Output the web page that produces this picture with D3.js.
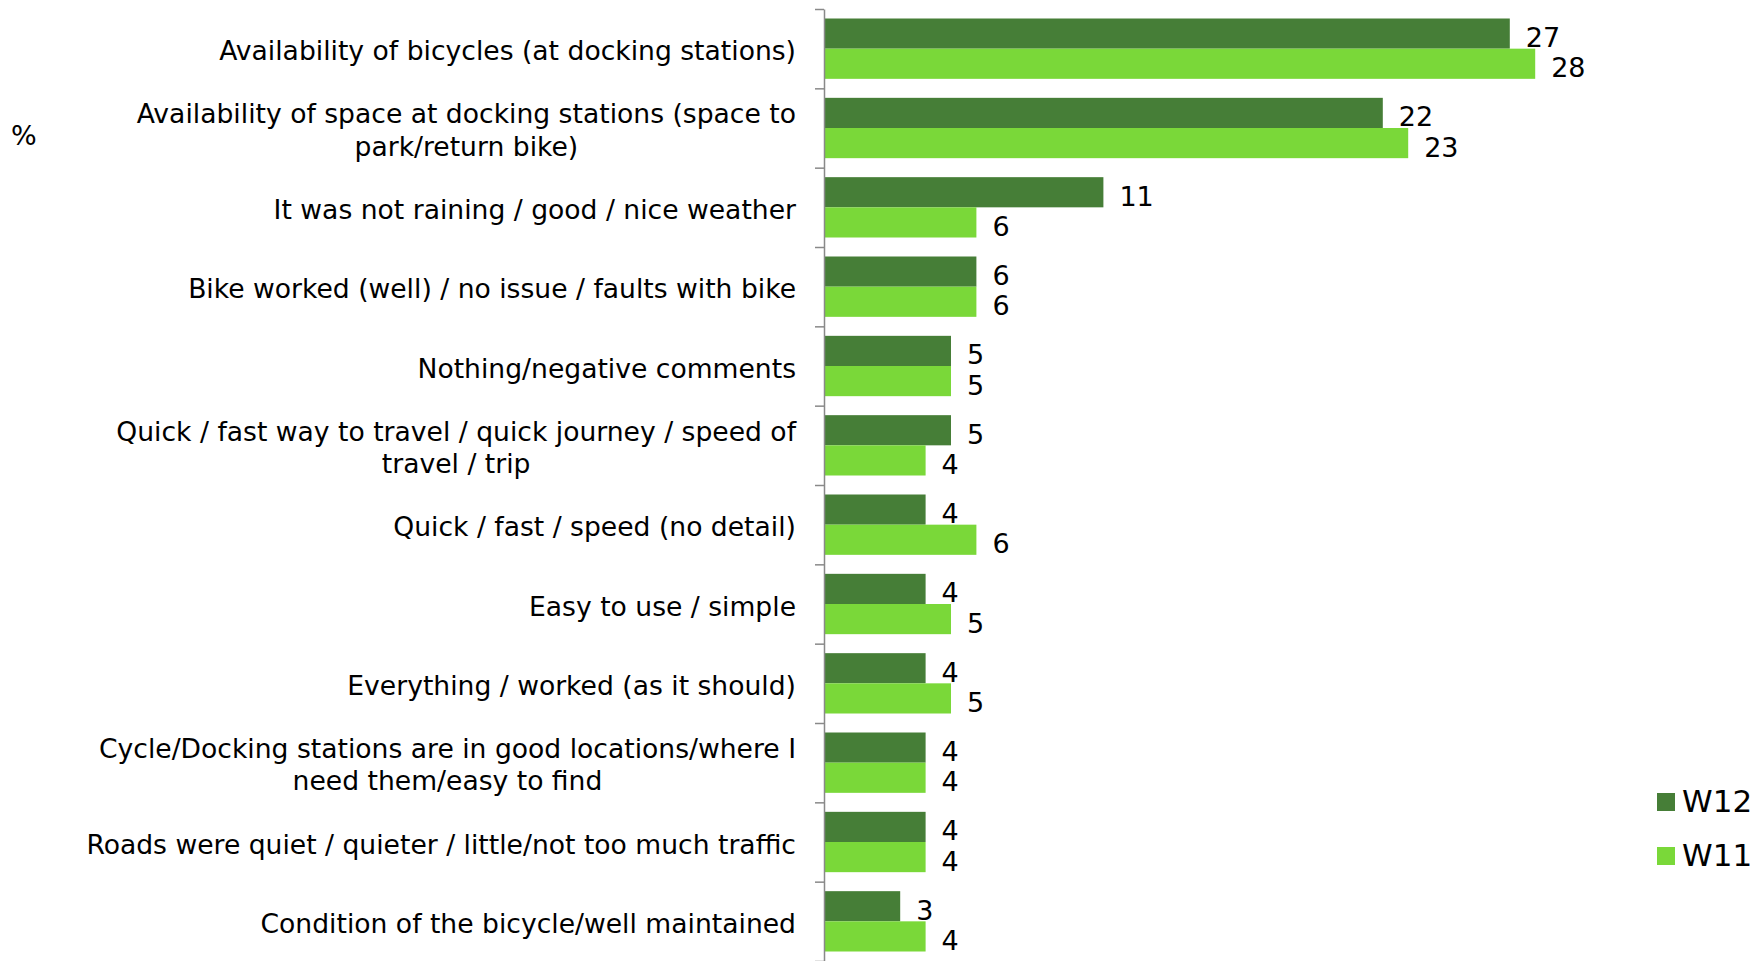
<!DOCTYPE html>
<html>
<head>
<meta charset="utf-8">
<script src="https://cdn.jsdelivr.net/npm/d3@7"></script>
<style>
  html, body { margin: 0; padding: 0; background: #fff; }
  svg { display: block; font-family: "DejaVu Sans", Verdana, sans-serif; }
</style>
</head>
<body>
<svg id="chart" width="1756" height="961"></svg>
<script>
const categories = [
    "Availability of bicycles (at docking stations)",
    "Availability of space at docking stations (space to\npark/return bike)",
    "It was not raining / good / nice weather",
    "Bike worked (well) / no issue / faults with bike",
    "Nothing/negative comments",
    "Quick / fast way to travel / quick journey / speed of\ntravel / trip",
    "Quick / fast / speed (no detail)",
    "Easy to use / simple",
    "Everything / worked (as it should)",
    "Cycle/Docking stations are in good locations/where I\nneed them/easy to find",
    "Roads were quiet / quieter / little/not too much traffic",
    "Condition of the bicycle/well maintained"
];
const w12 = [27, 22, 11, 6, 5, 5, 4, 4, 4, 4, 4, 3];
const w11 = [28, 23, 6, 6, 5, 4, 6, 5, 5, 4, 4, 4];
const seriesNames = ["W12", "W11"];
const seriesColors = ["#467E37", "#7AD839"];

(function () {
    const svg = d3.select("#chart");
    const margin = { top: 9, left: 824 };
    const H = 961 - margin.top;

    const y = d3.scaleBand().domain(categories).range([0, H]).paddingInner(0).paddingOuter(0);
    const bandPos = d3.scaleLinear().domain([0, categories.length]).range([0, H]);
    const x = d3.scaleLinear().domain([0, 30]).range([0, 762]);
    const inner = d3.scaleBand().domain(seriesNames).range([9.5, y.bandwidth() - 9.5]);

    const g = svg.append("g").attr("transform", `translate(${margin.left},${margin.top})`);

    const series = [w12, w11];
    seriesNames.forEach((name, si) => {
        const grp = g.append("g");
        grp.selectAll("rect")
            .data(categories)
            .join("rect")
            .attr("x", 0)
            .attr("y", d => y(d) + inner(name))
            .attr("width", (d, i) => x(series[si][i]))
            .attr("height", inner.bandwidth())
            .attr("fill", seriesColors[si]);
        grp.selectAll("text")
            .data(categories)
            .join("text")
            .attr("x", (d, i) => x(series[si][i]) + 16)
            .attr("y", d => y(d) + inner(name) + inner.bandwidth() / 2 + 6)
            .attr("dominant-baseline", "middle")
            .style("font-size", "27px")
            .attr("fill", "#000")
            .text((d, i) => series[si][i]);
    });

    // axis with ticks at category boundaries
    const ax = g.append("g").call(d3.axisLeft(bandPos)
        .tickValues(d3.range(categories.length + 1))
        .tickFormat("")
        .tickSize(9)
        .tickSizeOuter(0));
    ax.select(".domain").attr("stroke", "#898989").attr("stroke-width", 1.5);
    ax.selectAll(".tick line").attr("stroke", "#898989").attr("stroke-width", 1.5);

    // category labels
    const labelRight = -28;
    const lineH = 32.5;
    categories.forEach(c => {
        const lines = c.split("\n");
        const t = g.append("text")
            .style("font-size", "26.6px")
            .attr("fill", "#000");
        const cy = y(c) + y.bandwidth() / 2 + 4;
        lines.forEach((ln, li) => {
            t.append("tspan")
                .attr("y", cy + (li - (lines.length - 1) / 2) * lineH)
                .attr("dominant-baseline", "middle")
                .text(ln);
        });
        const widths = t.selectAll("tspan").nodes().map(n => n.getComputedTextLength());
        const maxW = d3.max(widths);
        if (lines.length === 1) {
            t.attr("text-anchor", "end").selectAll("tspan").attr("x", labelRight);
        } else {
            t.attr("text-anchor", "middle").selectAll("tspan").attr("x", labelRight - maxW / 2);
        }
    });

    // unit label
    svg.append("text")
        .attr("x", 11).attr("y", 137)
        .attr("dominant-baseline", "middle")
        .style("font-size", "27px")
        .text("%");

    // legend
    const legend = svg.append("g").attr("transform", "translate(1657,793)");
    seriesNames.forEach((name, i) => {
        const lg = legend.append("g").attr("transform", `translate(0,${i * 54})`);
        lg.append("rect").attr("width", 18).attr("height", 18).attr("fill", seriesColors[i]);
        lg.append("text")
            .attr("x", 25).attr("y", 10)
            .attr("dominant-baseline", "middle")
            .style("font-size", "31px")
            .text(name);
    });
})();
</script>
</body>
</html>
